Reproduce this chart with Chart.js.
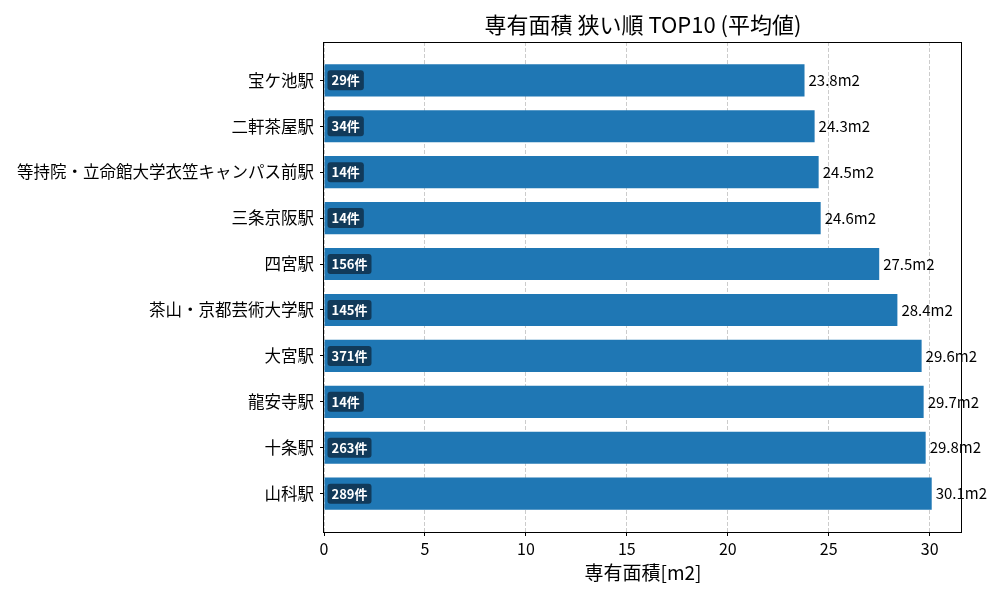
<!DOCTYPE html>
<html>
<head>
<meta charset="utf-8">
<script src="https://cdn.jsdelivr.net/npm/chart.js@4.4.0/dist/chart.umd.min.js"></script>
<style>
  html, body { margin: 0; padding: 0; background: #fff; }
  #wrap { width: 1000px; height: 600px; }
</style>
</head>
<body>
<div id="wrap"><canvas id="chart"></canvas></div>
<script>
// data, top to bottom as in the chart
const stations = ['宝ケ池駅', '二軒茶屋駅', '等持院・立命館大学衣笠キャンパス前駅', '三条京阪駅', '四宮駅',
                  '茶山・京都芸術大学駅', '大宮駅', '龍安寺駅', '十条駅', '山科駅'];
const areas = [23.8, 24.3, 24.5, 24.6, 27.5, 28.4, 29.6, 29.7, 29.8, 30.1];
const counts = [29, 34, 14, 14, 156, 145, 371, 14, 263, 289];
const xTicks = [0, 5, 10, 15, 20, 25, 30];

const FONT = "'Noto Sans CJK JP', 'Noto Sans', sans-serif";
Chart.defaults.font.family = FONT;
Chart.defaults.color = '#000';

// title, frame and bar labels
const labelPlugin = {
    id: 'labels',
    afterDatasetsDraw(chart) {
        const ctx = chart.ctx;
        const meta = chart.getDatasetMeta(0);
        ctx.save();
        meta.data.forEach((bar, i) => {
            // value at bar end
            ctx.font = '15px ' + FONT;
            ctx.fillStyle = '#000';
            ctx.textAlign = 'left';
            ctx.textBaseline = 'middle';
            ctx.fillText(areas[i] + 'm2', bar.x + 4, bar.y);

            // count badge at bar start
            const txt = counts[i] + '件';
            ctx.font = 'bold 13px ' + FONT;
            const w = ctx.measureText(txt).width;
            const bx = bar.base + 3, by = bar.y - 10;
            ctx.fillStyle = '#113a5a';
            ctx.beginPath();
            ctx.roundRect(bx, by, w + 8, 20, 3);
            ctx.fill();
            ctx.fillStyle = '#fff';
            ctx.fillText(txt, bx + 4, bar.y);
        });
        ctx.restore();
    },
    afterDraw(chart) {
        const ctx = chart.ctx;
        const a = chart.chartArea;
        ctx.save();
        ctx.strokeStyle = '#000';
        ctx.lineWidth = 1;
        ctx.strokeRect(Math.round(a.left) - 0.5, Math.round(a.top) + 0.5,
                       Math.round(a.right - a.left), Math.round(a.bottom - a.top));
        ctx.font = '22px ' + FONT;
        ctx.fillStyle = '#000';
        ctx.textAlign = 'center';
        ctx.textBaseline = 'middle';
        ctx.fillText('専有面積 狭い順 TOP10 (平均値)', (a.left + a.right) / 2, 25);
        ctx.restore();
    }
};

new Chart(document.getElementById('chart'), {
    type: 'bar',
    data: {
        datasets: [{
            data: areas.map((v, i) => ({ x: v, y: i })),
            backgroundColor: '#1f77b4',
            categoryPercentage: 1,
            barPercentage: 0.7
        }]
    },
    options: {
        indexAxis: 'y',
        responsive: true,
        maintainAspectRatio: false,
        devicePixelRatio: 1,
        animation: false,
        layout: { padding: { top: 42, right: 38, left: 0, bottom: 0 } },
        plugins: { legend: { display: false }, tooltip: { enabled: false } },
        scales: {
            x: {
                type: 'linear',
                bounds: 'data',
                min: 0,
                max: 31.6,
                afterBuildTicks: s => { s.ticks = xTicks.map(v => ({ value: v })); },
                afterFit: s => { s.height = 68; },
                grid: { color: '#cccccc', lineWidth: 1, tickColor: '#000', tickLength: 4, tickBorderDash: [] },
                border: { display: false, dash: [4, 2] },
                ticks: { font: { size: 16 }, padding: 3, color: '#000' },
                title: { display: true, text: '専有面積[m2]', font: { size: 19 }, padding: { top: 0, bottom: 16 }, color: '#000' }
            },
            y: {
                type: 'linear',
                bounds: 'data',
                offset: false,
                reverse: true,
                min: -0.835,
                max: 9.835,
                afterBuildTicks: s => { s.ticks = stations.map((_, i) => ({ value: i })); },
                afterFit: s => { s.width = 324; },
                grid: { drawOnChartArea: false, offset: false, color: '#000', lineWidth: 1, tickColor: '#000', tickLength: 4 },
                border: { display: false },
                ticks: { font: { size: 16.5 }, padding: 6, color: '#000', callback: v => stations[v] }
            }
        }
    },
    plugins: [labelPlugin]
});
</script>
</body>
</html>
